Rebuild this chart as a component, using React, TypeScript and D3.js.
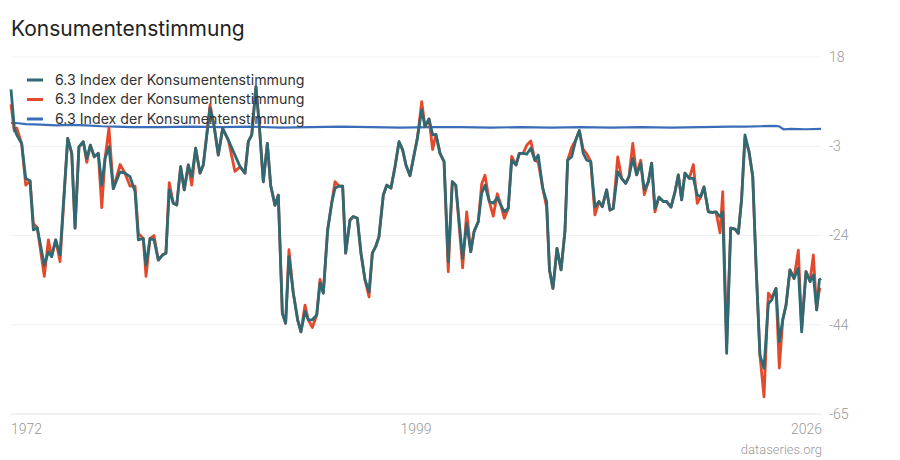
import React from "react";
import * as d3 from "d3";

const dates = [
  1972.0, 1972.22, 1972.38, 1972.71, 1972.98, 1973.27, 1973.49, 1973.75, 1974.22, 1974.49,
  1974.71, 1974.98, 1975.27, 1975.78, 1976.05, 1976.27, 1976.53, 1976.82, 1977.05, 1977.29,
  1977.55, 1977.82, 1978.05, 1978.27, 1978.53, 1978.82, 1979.27, 1979.6, 1979.93, 1980.27,
  1980.49, 1980.82, 1981.0, 1981.27, 1981.53, 1981.82, 1982.11, 1982.33, 1982.55, 1982.82,
  1983.05, 1983.31, 1983.55, 1983.82, 1984.05, 1984.31, 1984.6, 1984.82, 1985.27, 1985.53,
  1985.82, 1986.11, 1986.49, 1986.93, 1987.27, 1987.6, 1987.82, 1988.05, 1988.33, 1988.55,
  1988.82, 1989.09, 1989.31, 1989.6, 1989.82, 1990.09, 1990.31, 1990.53, 1990.82, 1991.11,
  1991.33, 1991.6, 1991.82, 1992.09, 1992.38, 1992.6, 1992.82, 1993.11, 1993.38, 1993.6,
  1993.87, 1994.11, 1994.31, 1994.6, 1994.82, 1995.09, 1995.33, 1995.6, 1995.87, 1996.09,
  1996.31, 1996.53, 1996.82, 1997.05, 1997.33, 1997.6, 1997.87, 1998.11, 1998.33, 1998.6,
  1998.87, 1999.09, 1999.38, 1999.6, 1999.87, 2000.11, 2000.33, 2000.6, 2000.87, 2001.15,
  2001.42, 2001.65, 2002.11, 2002.38, 2002.65, 2002.87, 2003.15, 2003.38, 2003.6, 2003.89,
  2004.15, 2004.42, 2004.65, 2004.89, 2005.15, 2005.38, 2005.67, 2005.89, 2006.15, 2006.38,
  2006.65, 2006.93, 2007.15, 2007.45, 2007.71, 2007.9, 2008.13, 2008.4, 2008.67, 2008.93,
  2009.11, 2009.38, 2009.65, 2009.89, 2010.15, 2010.38, 2010.65, 2010.93, 2011.2, 2011.42,
  2011.71, 2011.93, 2012.15, 2012.45, 2012.71, 2012.98, 2013.2, 2013.45, 2013.71, 2013.98,
  2014.22, 2014.49, 2014.71, 2014.93, 2015.2, 2015.49, 2015.71, 2016.0, 2016.27, 2016.49,
  2016.71, 2016.93, 2017.22, 2017.49, 2017.75, 2017.98, 2018.2, 2018.49, 2018.78, 2019.0,
  2019.27, 2019.45, 2019.71, 2019.98, 2020.27, 2020.49, 2020.71, 2020.93, 2021.2, 2021.45,
  2021.67, 2021.93, 2022.2, 2022.49, 2022.71, 2023.0, 2023.22, 2023.45, 2023.67, 2023.93,
  2024.2, 2024.49, 2024.71, 2025.0, 2025.27, 2025.49, 2025.71, 2025.89, 2026.0,
];

const tealValues = [
  10.5, 1.5, -0.1, -2.1, -10.2, -10.8, -22.2, -21.7, -30.4, -27.3,
  -28.4, -24.5, -28.0, -0.9, -4.4, -21.8, -2.9, -1.7, -5.6, -2.5,
  -5.2, -4.4, -11.8, -5.6, -2.9, -12.6, -8.7, -9.0, -9.8, -13.3,
  -24.5, -24.2, -30.4, -24.2, -24.5, -29.2, -28.0, -27.6, -12.9, -16.0,
  -16.4, -7.5, -12.9, -7.1, -9.8, -3.2, -9.0, -7.1, 6.1, 2.2,
  -4.8, 1.4, -1.3, -4.8, -7.5, -9.0, -1.7, -0.1, 11.1, 2.2,
  -11.0, -2.1, -11.8, -16.5, -14.1, -41.6, -43.9, -28.4, -36.9, -43.1,
  -45.9, -41.2, -43.1, -43.1, -42.0, -34.6, -36.9, -22.2, -16.0, -12.5,
  -12.0, -12.0, -27.6, -19.9, -19.1, -19.5, -27.6, -33.8, -36.6, -27.6,
  -26.1, -23.8, -14.1, -11.8, -12.5, -7.5, -1.7, -3.6, -7.1, -9.6,
  -4.8, -0.9, 5.7, 1.8, 3.6, -0.1, 0.0, -4.4, -6.3, -29.6,
  -11.0, -11.8, -28.8, -20.7, -27.3, -22.6, -20.3, -13.7, -11.8, -15.6,
  -16.0, -14.7, -16.4, -18.0, -17.2, -6.0, -7.1, -4.4, -4.4, -4.6,
  -3.2, -6.0, -4.8, -12.5, -15.6, -31.5, -35.8, -26.5, -31.5, -22.5,
  -6.0, -5.2, -1.3, 0.9, -4.4, -6.0, -6.3, -16.8, -15.6, -16.8,
  -12.9, -17.6, -17.2, -8.7, -10.2, -11.4, -9.8, -5.6, -9.4, -6.7,
  -12.9, -11.0, -6.7, -17.2, -14.6, -15.6, -15.6, -16.9, -13.3, -9.4,
  -15.2, -9.0, -10.2, -10.2, -14.1, -14.5, -12.2, -18.0, -18.1, -18.0,
  -19.1, -18.0, -50.9, -21.8, -22.0, -23.0, -14.9, -0.1, -4.0, -9.8,
  -30.4, -51.3, -54.4, -39.3, -38.5, -35.8, -48.2, -43.1, -39.7, -31.5,
  -33.5, -31.1, -45.9, -31.9, -34.2, -32.7, -40.8, -33.8, -33.5,
];

const redValues = [
  7.0, 0.8, 1.5, -2.1, -11.8, -10.8, -20.7, -21.7, -33.0, -24.5,
  -28.4, -24.5, -29.6, -0.9, -4.4, -21.8, -2.9, -1.7, -6.5, -2.5,
  -5.2, -4.4, -17.0, -5.6, 1.5, -12.6, -7.0, -9.0, -12.0, -12.0,
  -23.0, -24.2, -33.0, -24.2, -23.5, -29.2, -28.0, -27.6, -11.2, -16.0,
  -16.4, -7.5, -12.9, -7.1, -11.8, -3.2, -9.0, -7.1, 6.9, 2.2,
  -4.8, 1.4, -1.3, -8.6, -7.5, -9.0, -1.7, -0.1, 11.1, 2.2,
  -11.0, -2.1, -11.8, -16.5, -14.1, -41.6, -43.9, -26.8, -36.9, -43.1,
  -45.9, -39.7, -43.1, -44.9, -42.0, -33.7, -36.9, -22.2, -16.0, -11.0,
  -12.0, -12.0, -27.6, -19.9, -19.1, -19.5, -27.6, -33.8, -37.8, -27.6,
  -26.1, -23.8, -14.1, -11.8, -12.5, -7.5, -1.7, -3.6, -7.1, -9.6,
  -4.8, -0.9, 7.6, 1.8, 3.6, -3.5, 0.0, -4.4, -6.3, -31.9,
  -11.0, -11.8, -31.0, -18.0, -27.3, -22.6, -20.3, -11.5, -9.5, -15.6,
  -19.0, -13.8, -16.4, -19.5, -17.2, -5.1, -7.1, -4.4, -4.4, -2.5,
  -1.5, -6.0, -6.5, -12.5, -17.0, -31.5, -35.8, -26.5, -31.5, -22.5,
  -6.0, -3.0, -1.3, 0.9, -3.5, -4.5, -6.3, -18.7, -15.6, -16.8,
  -12.9, -17.6, -17.2, -5.2, -10.2, -11.4, -9.8, -2.1, -9.4, -6.0,
  -14.0, -11.0, -6.7, -18.0, -14.6, -15.6, -15.6, -16.9, -13.3, -9.4,
  -15.2, -9.0, -10.2, -7.0, -16.0, -14.5, -12.2, -18.0, -18.1, -18.0,
  -22.9, -13.3, -49.0, -21.8, -22.0, -23.0, -14.9, -1.0, -4.0, -9.8,
  -30.4, -51.3, -61.0, -36.9, -38.0, -35.8, -54.3, -43.1, -39.7, -31.5,
  -33.5, -26.9, -45.0, -31.9, -34.2, -28.0, -40.8, -36.0, -36.0,
];

const blueDates = [
  1972, 1972.5, 1973, 1974, 1975, 1976, 1977, 1978, 1979, 1980,
  1982, 1984, 1986, 1988, 1990, 1992, 1994, 1996, 1998, 2000,
  2002, 2004, 2006, 2008, 2010, 2012, 2014, 2016, 2018, 2020,
  2021, 2022, 2022.9, 2023.2, 2023.5, 2024, 2025, 2026,
];
const blueValues = [
  2.7, 2.6, 2.4, 2.3, 2.1, 2.2, 2.1, 1.9, 1.8, 1.7,
  1.7, 1.8, 1.7, 1.8, 1.6, 1.7, 1.8, 1.7, 1.6, 1.7,
  1.7, 1.6, 1.7, 1.6, 1.7, 1.6, 1.7, 1.6, 1.7, 1.8,
  1.8, 1.9, 2.0, 1.9, 1.2, 1.3, 1.2, 1.3,
];

const seriesNames = [
  "6.3 Index der Konsumentenstimmung",
  "6.3 Index der Konsumentenstimmung",
  "6.3 Index der Konsumentenstimmung",
];
const seriesColors = ["#2d6a73", "#e4492c", "#3a6db8"];

const xDomain = [1972, 2026];
const xTickValues = [1972, 1999, 2026];
const yDomain = [-65, 18];
const yTickLabels = ["18", "-3", "-24", "-44", "-65"];

const W = 900;
const H = 460;
const left = 11;
const right = 821;
const top = 57;
const bottom = 414;

export default function App() {
  const x = d3.scaleLinear().domain(xDomain).range([left, right]);
  const y = d3.scaleLinear().domain(yDomain).range([bottom, top]);
  const yTicks = d3.range(yTickLabels.length).map(
    (i) => yDomain[1] - (i * (yDomain[1] - yDomain[0])) / (yTickLabels.length - 1)
  );

  const line = d3
    .line<[number, number]>()
    .x((d) => x(d[0]))
    .y((d) => y(d[1]))
    .curve(d3.curveLinear);

  const teal = line(dates.map((d, i) => [d, tealValues[i]] as [number, number])) || "";
  const red = line(dates.map((d, i) => [d, redValues[i]] as [number, number])) || "";
  const blue = line(blueDates.map((d, i) => [d, blueValues[i]] as [number, number])) || "";

  const anchors = ["start", "middle", "end"];

  return (
    <svg
      width={W}
      height={H}
      style={{ position: "absolute", left: 0, top: 0, background: "#fff" }}
      fontFamily="Inter, 'Noto Sans', sans-serif"
    >
      <text x={11} y={36} fontSize={21} fill="#222">
        Konsumentenstimmung
      </text>

      {yTicks.map((t, i) => (
        <g key={i}>
          <line
            x1={left}
            x2={right}
            y1={y(t)}
            y2={y(t)}
            stroke={i === yTicks.length - 1 ? "#e2e2e2" : "#f0f0f0"}
            strokeWidth={1}
          />
          <text
            x={829}
            y={y(t)}
            dy="0.35em"
            fontSize={14}
            fill="#999"
            fontFamily="Roboto, sans-serif"
            fontWeight={300}
          >
            {yTickLabels[i]}
          </text>
        </g>
      ))}

      {xTickValues.map((t, i) => (
        <text
          key={t}
          x={i === 2 ? x(t) + 1 : x(t)}
          y={434}
          fontSize={14}
          fill="#999"
          textAnchor={anchors[i]}
          fontFamily="Roboto, sans-serif"
          fontWeight={300}
        >
          {t}
        </text>
      ))}

      <text
        x={822}
        y={454}
        fontSize={13}
        fill="#999"
        textAnchor="end"
        fontFamily="Roboto, sans-serif"
        fontWeight={300}
      >
        dataseries.org
      </text>

      <path d={blue} fill="none" stroke={seriesColors[2]} strokeWidth={2.2} />
      <path d={red} fill="none" stroke={seriesColors[1]} strokeWidth={2.8} strokeLinejoin="round" />
      <path d={teal} fill="none" stroke={seriesColors[0]} strokeWidth={2.8} strokeLinejoin="round" />

      {seriesNames.map((n, i) => (
        <g key={i}>
          <line
            x1={27}
            x2={43}
            y1={80 + i * 19.5}
            y2={80 + i * 19.5}
            stroke={seriesColors[i]}
            strokeWidth={3}
          />
          <text x={55} y={80 + i * 19.5} dy="0.35em" fontSize={14.2} fill="#333">
            {n}
          </text>
        </g>
      ))}
    </svg>
  );
}
